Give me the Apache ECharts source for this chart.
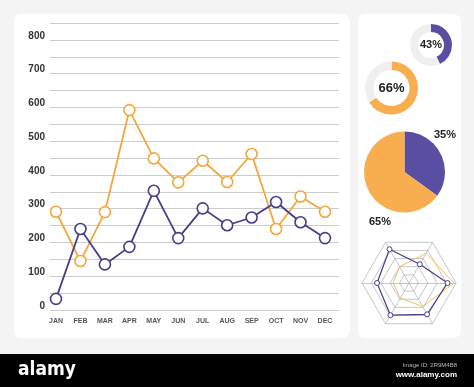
<!DOCTYPE html>
<html>
<head>
<meta charset="utf-8">
<script src="https://cdn.jsdelivr.net/npm/echarts@6/dist/echarts.min.js"></script>
<style>html,body{margin:0;padding:0;background:#f4f4f4;}#c{width:474px;height:387px;}</style>
</head>
<body>
<div id="c"></div>
<script>
var months = ['JAN','FEB','MAR','APR','MAY','JUN','JUL','AUG','SEP','OCT','NOV','DEC'];
var purpleLine = [33, 240, 135, 187, 353, 213, 301, 251, 274, 320, 260, 213];
var orangeLine = [291, 145, 290, 592, 449, 378, 442, 379, 462, 240, 336, 291];
var donutSmall = [43, 57];
var donutLarge = [66, 34];
var pieShares = [35, 65];
var radarPurple = [0.82, 0.46, 0.83, 0.68, 0.79, 0.77];
var radarOrange = [0.96, 0.73, 0.40, 0.34, 0.37, 0.58];

var PURPLE = '#463e87', PIE_PURPLE = '#5a4ea2', ORANGE = '#f2a83c', PIE_ORANGE = '#f8ad4e', YEL = '#f0c452';
var FONT = 'Liberation Sans, Arial, sans-serif';

var chart = echarts.init(document.getElementById('c'));
chart.setOption({
  backgroundColor: '#f4f4f4',
  animation: false,
  textStyle: {fontFamily: FONT},
  graphic: [
    {type:'rect', z:-10, shape:{x:14,y:14,width:336,height:324,r:8}, style:{fill:'#ffffff'}},
    {type:'rect', z:-10, shape:{x:358,y:14,width:103,height:324,r:8}, style:{fill:'#ffffff'}},
    {type:'rect', z:100, shape:{x:0,y:354,width:474,height:33}, style:{fill:'#000000'}},
    {type:'text', z:101, left:18, top:361, style:{text:'alamy', fill:'#ffffff', font:'bold 19px "DejaVu Sans Condensed", sans-serif'}},
    {type:'text', z:101, right:17, top:362, style:{text:'Image ID: 2R9M4B8', fill:'#bbbbbb', font:'6px '+FONT}},
    {type:'text', z:101, right:17, top:371, style:{text:'www.alamy.com', fill:'#ffffff', font:'bold 8px '+FONT}},
    {type:'text', z:50, left:434, top:129, style:{text:pieShares[0]+'%', fill:'#222', font:'bold 11px '+FONT}},
    {type:'text', z:50, left:369, top:216, style:{text:pieShares[1]+'%', fill:'#222', font:'bold 11px '+FONT}}
  ],
  grid: [
    {left:50, right:135, top:23, bottom:77},
    {left:56, right:149, top:23, bottom:77}
  ],
  xAxis: [
    {gridIndex:0, type:'category', data:months, show:false},
    {gridIndex:1, type:'category', data:months, boundaryGap:false,
     axisLine:{show:false}, axisTick:{show:false},
     axisLabel:{fontSize:7, fontWeight:'bold', color:'#555', margin:8, interval:0}}
  ],
  yAxis: [
    {gridIndex:0, type:'value', min:0, max:850, interval:50,
     axisLine:{show:false}, axisTick:{show:false},
     splitLine:{lineStyle:{color:'#cccccc', width:1}},
     axisLabel:{fontSize:10, fontWeight:'bold', color:'#333', margin:5, verticalAlign:'bottom', lineHeight:8,
       formatter:function(v){return v % 100 === 0 ? String(v) : '';}}},
    {gridIndex:1, type:'value', min:0, max:850, show:false, splitLine:{show:false}}
  ],
  radar: {
    center:[409, 283], radius:47, startAngle:0, splitNumber:5, shape:'polygon',
    indicator: radarPurple.map(function(){return {max:1};}),
    axisName:{show:false},
    axisLine:{lineStyle:{color:'#b8b8c4', width:0.8}},
    splitLine:{lineStyle:{color:'#b8b8c4', width:0.8}},
    splitArea:{show:false}
  },
  series: [
    {type:'line', xAxisIndex:1, yAxisIndex:1, data:orangeLine, symbol:'circle', symbolSize:11,
     lineStyle:{color:ORANGE, width:1.8}, itemStyle:{color:'#fff', borderColor:ORANGE, borderWidth:1.6}, z:3},
    {type:'line', xAxisIndex:1, yAxisIndex:1, data:purpleLine, symbol:'circle', symbolSize:11,
     lineStyle:{color:PURPLE, width:1.8}, itemStyle:{color:'#fff', borderColor:PURPLE, borderWidth:1.6}, z:4},
    {type:'pie', center:[431,45], radius:[13,21], startAngle:90, clockwise:true, silent:true,
     labelLine:{show:false},
     data:[
       {value:donutSmall[0], itemStyle:{color:PIE_PURPLE},
        label:{show:true, position:'center', formatter:donutSmall[0]+'%', fontSize:11, fontWeight:'bold', color:'#222'}},
       {value:donutSmall[1], itemStyle:{color:'#efefef'}, label:{show:false}}
     ]},
    {type:'pie', center:[391.5,88], radius:[18,26.5], startAngle:90, clockwise:true, silent:true,
     labelLine:{show:false},
     data:[
       {value:donutLarge[0], itemStyle:{color:PIE_ORANGE},
        label:{show:true, position:'center', formatter:donutLarge[0]+'%', fontSize:13, fontWeight:'bold', color:'#222'}},
       {value:donutLarge[1], itemStyle:{color:'#efefef'}, label:{show:false}}
     ]},
    {type:'pie', center:[404.5,172], radius:[0,40.5], startAngle:90, clockwise:true, silent:true,
     label:{show:false}, labelLine:{show:false},
     data:[
       {value:pieShares[0], itemStyle:{color:PIE_PURPLE}},
       {value:pieShares[1], itemStyle:{color:PIE_ORANGE}}
     ]},
    {type:'radar', silent:true,
     data:[
       {value:radarOrange, symbol:'none', lineStyle:{color:YEL, width:1}},
       {value:radarPurple, symbol:'circle', symbolSize:5, lineStyle:{color:PURPLE, width:1.2},
        itemStyle:{color:'#fff', borderColor:PURPLE, borderWidth:1}}
     ]}
  ]
});
</script>
</body>
</html>
